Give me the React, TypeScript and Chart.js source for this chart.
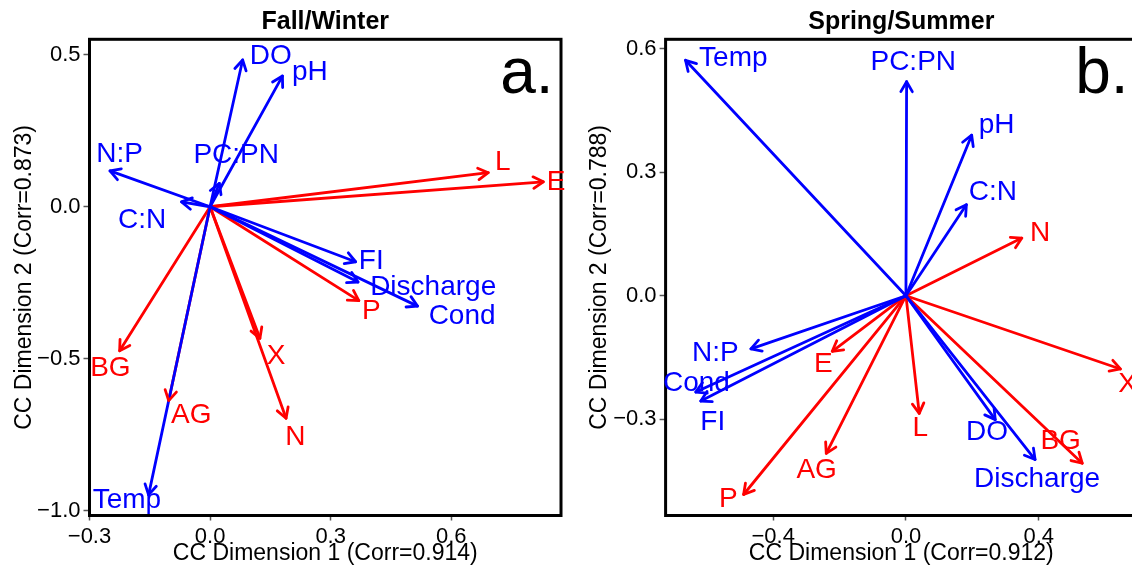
import React, { useEffect, useRef } from "react";
import { Chart, registerables } from "chart.js";

Chart.register(...registerables);

const FONT = "'Liberation Sans', Arial, Helvetica, sans-serif";
const BLUE = "#0000FF";
const RED = "#FF0000";

// ---------- Panel a: Fall/Winter ----------
const fwEnvNames = ["DO", "pH", "PC:PN", "N:P", "C:N", "FI", "Discharge", "Cond", "Temp"];
const fwEnvX = [0.081, 0.18, 0.023, -0.249, -0.071, 0.362, 0.368, 0.516, -0.153];
const fwEnvY = [0.483, 0.43, 0.077, 0.118, 0.016, -0.181, -0.248, -0.327, -0.948];
const fwEnvLabelX = [0.151, 0.248, 0.065, -0.225, -0.169, 0.401, 0.555, 0.627, -0.207];
const fwEnvLabelY = [0.496, 0.444, 0.17, 0.173, -0.044, -0.181, -0.265, -0.36, -0.967];

const fwEnzNames = ["L", "E", "P", "X", "N", "BG", "AG"];
const fwEnzX = [0.692, 0.829, 0.37, 0.124, 0.189, -0.225, -0.103];
const fwEnzY = [0.112, 0.082, -0.309, -0.433, -0.696, -0.474, -0.638];
const fwEnzLabelX = [0.728, 0.861, 0.401, 0.164, 0.212, -0.248, -0.047];
const fwEnzLabelY = [0.145, 0.082, -0.345, -0.491, -0.759, -0.532, -0.685];

const fwXTicks = [-0.3, 0.0, 0.3, 0.6];
const fwYTicks = [-1.0, -0.5, 0.0, 0.5];

// ---------- Panel b: Spring/Summer ----------
const ssEnvNames = ["Temp", "PC:PN", "pH", "C:N", "N:P", "Cond", "FI", "DO", "Discharge"];
const ssEnvX = [-0.664, 0.002, 0.198, 0.182, -0.467, -0.633, -0.618, 0.269, 0.389];
const ssEnvY = [0.572, 0.52, 0.39, 0.221, -0.129, -0.234, -0.256, -0.301, -0.398];
const ssEnvLabelX = [-0.52, 0.022, 0.273, 0.262, -0.574, -0.631, -0.582, 0.244, 0.395];
const ssEnvLabelY = [0.576, 0.566, 0.415, 0.251, -0.141, -0.213, -0.307, -0.332, -0.445];

const ssEnzNames = ["N", "X", "E", "AG", "P", "L", "BG"];
const ssEnzX = [0.349, 0.646, -0.222, -0.24, -0.489, 0.04, 0.531];
const ssEnzY = [0.14, -0.178, -0.135, -0.383, -0.483, -0.286, -0.407];
const ssEnzLabelX = [0.404, 0.668, -0.249, -0.269, -0.535, 0.043, 0.466];
const ssEnzLabelY = [0.152, -0.216, -0.167, -0.424, -0.495, -0.323, -0.353];

const ssXTicks = [-0.4, 0.0, 0.4];
const ssYTicks = [-0.3, 0.0, 0.3, 0.6];

const fmt = (v: number) => (v < 0 ? "\u2212" : "") + Math.abs(v).toFixed(1);

const LINE_W = 2.8;

const boxPlugin = {
  id: "plotBox",
  beforeDatasetsDraw(chart: any) {
    const { ctx, chartArea } = chart;
    ctx.save();
    ctx.strokeStyle = "#000";
    ctx.lineWidth = 3;
    ctx.strokeRect(chartArea.left, chartArea.top, chartArea.right - chartArea.left, chartArea.bottom - chartArea.top);
    ctx.restore();
  },
};

const arrowPlugin = {
  id: "arrowHeads",
  afterDatasetsDraw(chart: any) {
    const ctx = chart.ctx;
    const xs = chart.scales.x;
    const ys = chart.scales.y;
    chart.data.datasets.forEach((ds: any, i: number) => {
      const meta = chart.getDatasetMeta(i);
      const a = meta.data[0];
      const b = meta.data[1];
      const ang = Math.atan2(b.y - a.y, b.x - a.x);
      const L = 11.5;
      const phi = Math.PI / 6;
      ctx.save();
      ctx.strokeStyle = ds.borderColor;
      ctx.lineWidth = LINE_W;
      ctx.lineCap = "round";
      ctx.lineJoin = "round";
      ctx.beginPath();
      ctx.moveTo(b.x - L * Math.cos(ang - phi), b.y - L * Math.sin(ang - phi));
      ctx.lineTo(b.x, b.y);
      ctx.lineTo(b.x - L * Math.cos(ang + phi), b.y - L * Math.sin(ang + phi));
      ctx.stroke();
      ctx.restore();
    });
    // variable labels
    chart.data.datasets.forEach((ds: any) => {
      ctx.save();
      ctx.fillStyle = ds.borderColor;
      ctx.font = `28px ${FONT}`;
      ctx.textAlign = "center";
      ctx.textBaseline = "middle";
      ctx.fillText(ds.label, xs.getPixelForValue(ds.labelX), ys.getPixelForValue(ds.labelY));
      ctx.restore();
    });
  },
  afterDraw(chart: any, _args: any, opts: any) {
    const { ctx, chartArea } = chart;
    ctx.save();
    ctx.fillStyle = "#000";
    ctx.font = `64px ${FONT}`;
    ctx.textAlign = "right";
    ctx.textBaseline = "alphabetic";
    ctx.fillText(opts.text, chartArea.right - opts.dx, chartArea.top + 54);
    ctx.restore();
  },
};

function makeDatasets(names: string[], xs: number[], ys: number[], lx: number[], ly: number[], color: string) {
  return names.map((n, i) => ({
    label: n,
    labelX: lx[i],
    labelY: ly[i],
    data: [
      { x: 0, y: 0 },
      { x: xs[i], y: ys[i] },
    ],
    showLine: true,
    borderColor: color,
    backgroundColor: color,
    borderWidth: LINE_W,
    borderCapStyle: "round",
    pointRadius: 0,
    fill: false,
  }));
}

function buildConfig(p: any) {
  const tickFont = { family: FONT, size: 22 };
  const titleFont = { family: FONT, size: 23, lineHeight: 1.1 };
  return {
    type: "scatter",
    data: {
      datasets: [
        ...makeDatasets(p.envNames, p.envX, p.envY, p.envLX, p.envLY, BLUE),
        ...makeDatasets(p.enzNames, p.enzX, p.enzY, p.enzLX, p.enzLY, RED),
      ],
    },
    options: {
      animation: false,
      responsive: false,
      events: [],
      layout: { padding: { top: 0, left: 0, right: p.padRight, bottom: 0 } },
      plugins: {
        legend: { display: false },
        tooltip: { enabled: false },
        title: {
          display: true,
          text: p.title,
          fullSize: false,
          color: "#000",
          font: { family: FONT, size: 25, weight: "bold", lineHeight: 1.2 },
          padding: { top: 7.5, bottom: 1.8 },
        },
        arrowHeads: { text: p.letter, dx: p.letterDx },
      },
      scales: {
        x: {
          type: "linear",
          min: p.xMin,
          max: p.xMax,
          afterBuildTicks: (s: any) => {
            s.ticks = p.xTicks.map((v: number) => ({ value: v }));
          },
          afterFit: (s: any) => {
            s.height = 51.5;
          },
          ticks: { callback: (v: number) => fmt(v), font: tickFont, color: "#000", padding: 3, maxRotation: 0, autoSkip: false },
          grid: { display: true, drawOnChartArea: false, drawTicks: true, tickLength: 5, tickColor: "#555", tickWidth: 1.5 },
          border: { display: false },
          title: { display: true, text: p.xTitle, font: titleFont, color: "#000", padding: { top: 0, bottom: 0.3 } },
        },
        y: {
          type: "linear",
          min: p.yMin,
          max: p.yMax,
          afterBuildTicks: (s: any) => {
            s.ticks = p.yTicks.map((v: number) => ({ value: v }));
          },
          afterFit: (s: any) => {
            s.width = p.yWidth;
          },
          ticks: { callback: (v: number) => fmt(v), font: tickFont, color: "#000", padding: 3, autoSkip: false },
          grid: { display: true, drawOnChartArea: false, drawTicks: true, tickLength: 6, tickColor: "#555", tickWidth: 1.5 },
          border: { display: false },
          title: { display: true, text: p.yTitle, font: { family: FONT, size: 23, lineHeight: 1.2 }, color: "#000", padding: { top: p.yTitlePad, bottom: 0 } },
        },
      },
    },
    plugins: [boxPlugin, arrowPlugin],
  };
}

const panelA = {
  title: "Fall/Winter",
  letter: "a.",
  letterDx: 7.5,
  envNames: fwEnvNames, envX: fwEnvX, envY: fwEnvY, envLX: fwEnvLabelX, envLY: fwEnvLabelY,
  enzNames: fwEnzNames, enzX: fwEnzX, enzY: fwEnzY, enzLX: fwEnzLabelX, enzLY: fwEnzLabelY,
  xMin: -0.3, xMax: 0.873, yMin: -1.016, yMax: 0.551,
  xTicks: fwXTicks, yTicks: fwYTicks,
  xTitle: "CC Dimension 1 (Corr=0.914)",
  yTitle: "CC Dimension 2 (Corr=0.873)",
  yWidth: 89.5, yTitlePad: 11.2, padRight: 5,
};

const panelB = {
  title: "Spring/Summer",
  letter: "b.",
  letterDx: 8.5,
  envNames: ssEnvNames, envX: ssEnvX, envY: ssEnvY, envLX: ssEnvLabelX, envLY: ssEnvLabelY,
  enzNames: ssEnzNames, enzX: ssEnzX, enzY: ssEnzY, enzLX: ssEnzLabelX, enzLY: ssEnzLabelY,
  xMin: -0.724, xMax: 0.696, yMin: -0.534, yMax: 0.623,
  xTicks: ssXTicks, yTicks: ssYTicks,
  xTitle: "CC Dimension 1 (Corr=0.912)",
  yTitle: "CC Dimension 2 (Corr=0.788)",
  yWidth: 99.6, yTitlePad: 20.2, padRight: 5,
};

function Panel({ cfg, left, width }: { cfg: any; left: number; width: number }) {
  const ref = useRef<HTMLCanvasElement | null>(null);
  useEffect(() => {
    const chart = new Chart(ref.current as HTMLCanvasElement, buildConfig(cfg) as any);
    return () => chart.destroy();
  }, [cfg]);
  return (
    <canvas
      ref={ref}
      width={width}
      height={567}
      style={{ position: "absolute", left, top: 0, width, height: 567, display: "block" }}
    />
  );
}

export default function App() {
  return (
    <div
      style={{
        position: "fixed",
        left: 0,
        top: 0,
        width: 1132,
        height: 567,
        overflow: "hidden",
        background: "#fff",
      }}
    >
      <Panel cfg={panelA} left={0} width={566} />
      <Panel cfg={panelB} left={566} width={576} />
    </div>
  );
}
